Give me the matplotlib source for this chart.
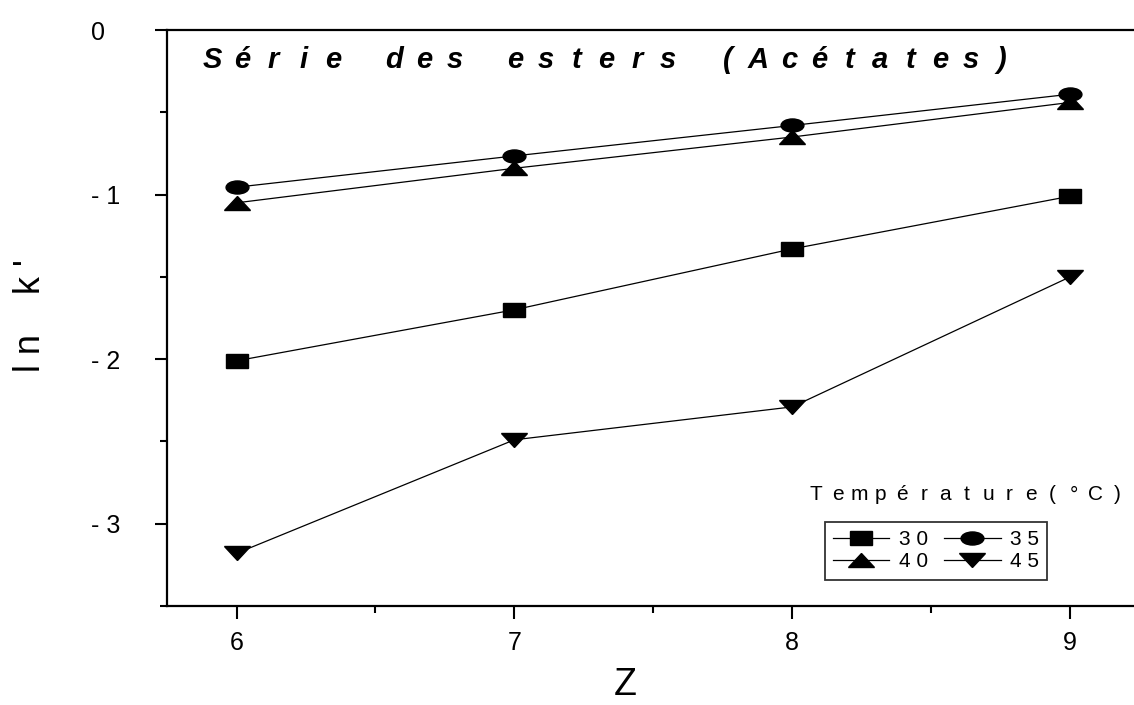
import matplotlib as mpl
from matplotlib import pyplot as plt
from matplotlib.markers import MarkerStyle
from matplotlib.transforms import Affine2D

# ------------------------------------------------------------
# data
# ------------------------------------------------------------
z_values = [6, 7, 8, 9]
lnk_30 = [-2.01, -1.70, -1.33, -1.01]
lnk_35 = [-0.955, -0.765, -0.58, -0.39]
lnk_40 = [-1.05, -0.84, -0.65, -0.44]
lnk_45 = [-3.18, -2.49, -2.29, -1.50]
temp_labels = ["3 0", "3 5", "4 0", "4 5"]

y_ticks = [0, -1, -2, -3]
y_tick_labels = ["0", "- 1", "- 2", "- 3"]
x_ticks = [6, 7, 8, 9]

title_text = "Série des esters (Acétates)"
legend_title = "Température(°C)"

mpl.rcParams.update({
    "font.family": ["Liberation Sans", "DejaVu Sans"],
    "figure.facecolor": "white",
})


def wide(marker, sx):
    # markers in the reference are stretched horizontally
    return MarkerStyle(marker, transform=Affine2D().scale(sx, 1.0))


def spaced(ax, s, x0, pitch, y, **kw):
    # letter-spaced text: one glyph per slot, evenly pitched (axes fraction)
    for i, ch in enumerate(s):
        if ch != " ":
            ax.text(x0 + i * pitch, y, ch, transform=ax.transAxes,
                    ha="center", va="center", **kw)


series = [
    (lnk_30, wide("s", 1.55), 10.0),
    (lnk_35, wide("o", 1.75), 9.4),
    (lnk_40, wide("^", 2.0), 9.6),
    (lnk_45, wide("v", 2.0), 9.6),
]

fig = plt.figure(figsize=(11.34, 7.05), dpi=100)
ax = fig.add_axes([0.1473, 0.1404, 0.8527, 0.817])

handles = []
for (vals, mk, ms), lab in zip(series, temp_labels):
    h, = ax.plot(z_values, vals, color="black", linewidth=0.9,
                 marker=mk, markersize=ms, markerfacecolor="black",
                 markeredgecolor="black", label=lab, clip_on=False)
    handles.append(h)

ax.set_xlim(5.75, 9.23)
ax.set_ylim(-3.5, 0)

ax.set_xticks(x_ticks)
ax.set_xticks([6.5, 7.5, 8.5], minor=True)
ax.set_yticks(y_ticks)
ax.set_yticklabels(y_tick_labels)
ax.set_yticks([-0.5, -1.5, -2.5, -3.5], minor=True)

ax.tick_params(axis="both", which="major", direction="out", length=9,
               width=1.5, labelsize=18, pad=9)
ax.tick_params(axis="both", which="minor", direction="out", length=5,
               width=1.5)
ax.tick_params(axis="y", which="major", pad=46)
for lbl in ax.get_yticklabels():
    lbl.set_horizontalalignment("left")

ax.spines["right"].set_visible(False)
for s in ("left", "top", "bottom"):
    ax.spines[s].set_linewidth(1.6)

fig.text(0.027, 0.553, "l n    k '", rotation=90, ha="center", va="center",
         fontsize=26)
fig.text(0.551, 0.028, "Z", ha="center", va="center", fontsize=27)

spaced(ax, title_text, 0.0465, 0.0314, 0.948, fontsize=21,
       fontweight="bold", fontstyle="italic")

spaced(ax, legend_title, 0.6715, 0.0222, 0.193, fontsize=15)

# legend filled column-wise: 30/40 in col 1, 35/45 in col 2
order = [0, 2, 1, 3]
leg = ax.legend([handles[i] for i in order], [temp_labels[i] for i in order],
                ncol=2, loc="upper left", bbox_to_anchor=(0.68, 0.146),
                frameon=True, fancybox=False, fontsize=15,
                handlelength=2.7, handletextpad=0.45, columnspacing=0.8,
                labelspacing=0.15, borderpad=0.4, borderaxespad=0)
leg.get_frame().set_edgecolor("black")
leg.get_frame().set_linewidth(1.3)

fig.savefig("out.png", dpi=100)
